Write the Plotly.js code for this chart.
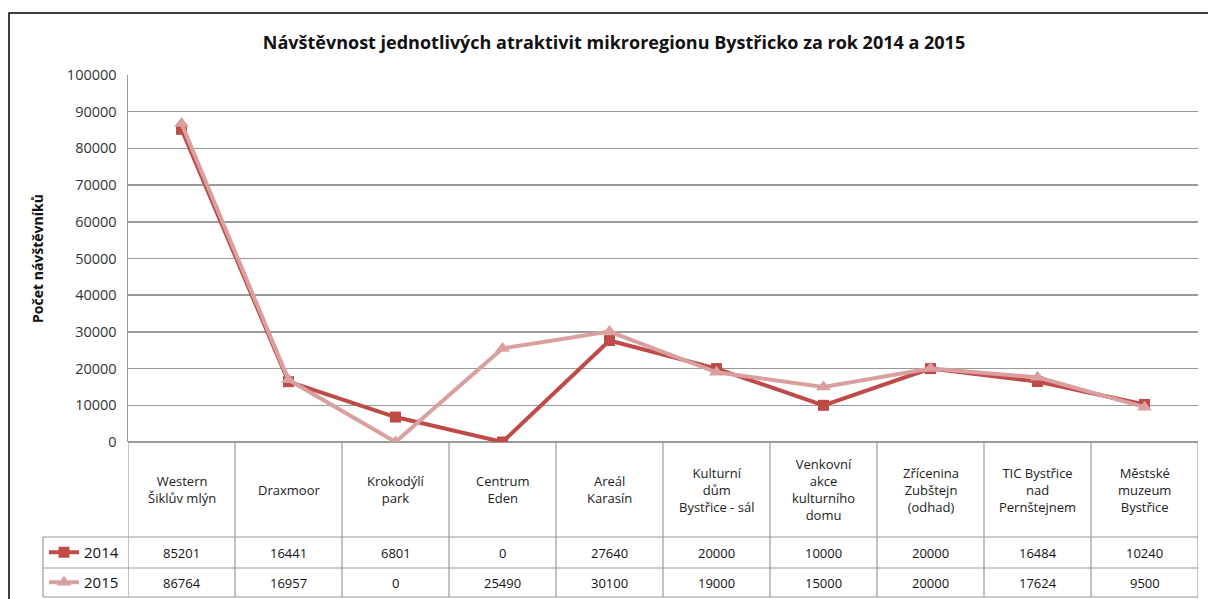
<!DOCTYPE html>
<html>
<head>
<meta charset="utf-8">
<script src="https://cdn.plot.ly/plotly-3.0.1.min.js"></script>
<style>html,body{margin:0;padding:0;background:#fff;}#chart{width:1208px;height:599px;}</style>
</head>
<body>
<div id="chart"></div>
<script>
// ---- data ----
const categories = [
  "Western<br>Šiklův mlýn",
  "Draxmoor",
  "Krokodýlí<br>park",
  "Centrum<br>Eden",
  "Areál<br>Karasín",
  "Kulturní<br>dům<br>Bystřice - sál",
  "Venkovní<br>akce<br>kulturního<br>domu",
  "Zřícenina<br>Zubštejn<br>(odhad)",
  "TIC Bystřice<br>nad<br>Pernštejnem",
  "Městské<br>muzeum<br>Bystřice"
];
const values2014 = [85201, 16441, 6801, 0, 27640, 20000, 10000, 20000, 16484, 10240];
const values2015 = [86764, 16957, 0, 25490, 30100, 19000, 15000, 20000, 17624, 9500];
const seriesNames = ["2014", "2015"];
const yTicks = [0, 10000, 20000, 30000, 40000, 50000, 60000, 70000, 80000, 90000, 100000];
const chartTitle = "Návštěvnost jednotlivých atraktivit mikroregionu Bystřicko za rok 2014 a 2015";
const yTitle = "Počet návštěvníků";

// ---- layout geometry (pixels) ----
const W = 1208, H = 599;
const L = 128, R = 1198, T = 75, B = 442;
const rowTop = 537, rowMid = 568, rowBot = 597, tableLeft = 43;
const px = x => (x - L) / (R - L);
const py = y => (B - y) / (B - T);

const FONT = "Open Sans, Lato, sans-serif";
const c2014 = "#BE4B48", c2015 = "#D9A09F";
const lineCol = "#9A9A9A";

const idx = categories.map((c, i) => i);

const traces = [
  {
    x: idx, y: values2014, name: seriesNames[0], type: "scatter", mode: "lines+markers",
    line: {color: c2014, width: 4},
    marker: {symbol: "square", size: 11, color: c2014},
    legend: "legend"
  },
  {
    x: idx, y: values2015, name: seriesNames[1], type: "scatter", mode: "lines+markers",
    line: {color: c2015, width: 4},
    marker: {symbol: "triangle-up", size: 13, color: c2015},
    legend: "legend2"
  }
];

const shapes = [];
const annotations = [];

// outer chart border (cut off on right and bottom like the reference)
shapes.push({type: "rect", xref: "paper", yref: "paper",
  x0: px(9), x1: px(W + 20), y0: py(H + 20), y1: py(13),
  line: {color: "#000", width: 1.5}, layer: "below"});

// table vertical dividers between categories
for (let i = 0; i <= categories.length; i++) {
  shapes.push({type: "line", xref: "x", yref: "paper",
    x0: i - 0.5, x1: i - 0.5, y0: py(B), y1: py(rowBot),
    line: {color: lineCol, width: 1.2}});
}
// table horizontal lines
[rowTop, rowMid, rowBot].forEach(y => {
  shapes.push({type: "line", xref: "paper", yref: "paper",
    x0: px(tableLeft), x1: px(R), y0: py(y), y1: py(y),
    line: {color: lineCol, width: 1.2}});
});
// left edge of legend column
shapes.push({type: "line", xref: "paper", yref: "paper",
  x0: px(tableLeft), x1: px(tableLeft), y0: py(rowTop), y1: py(rowBot),
  line: {color: lineCol, width: 1.2}});

// header labels
categories.forEach((c, i) => {
  annotations.push({x: i, y: py((B + rowTop) / 2), xref: "x", yref: "paper",
    text: c, showarrow: false, xanchor: "center", yanchor: "middle",
    font: {family: FONT, size: 13, color: "#222"}});
});
// values
const rows = [[values2014, (rowTop + rowMid) / 2], [values2015, (rowMid + rowBot) / 2]];
rows.forEach(([vals, yc]) => {
  vals.forEach((v, i) => {
    annotations.push({x: i, y: py(yc), xref: "x", yref: "paper",
      text: String(v), showarrow: false, xanchor: "center", yanchor: "middle",
      font: {family: FONT, size: 13, color: "#111"}});
  });
});

const legendBase = {
  xref: "paper", yref: "paper", xanchor: "left", yanchor: "middle",
  bgcolor: "rgba(0,0,0,0)", borderwidth: 0,
  font: {family: FONT, size: 15, color: "#111"},
  itemwidth: 30, tracegroupgap: 0
};

const layout = {
  width: W, height: H,
  margin: {l: L, r: W - R, t: T, b: H - B, pad: 0, autoexpand: false},
  paper_bgcolor: "#fff", plot_bgcolor: "#fff",
  showlegend: true,
  title: {text: "<b>" + chartTitle + "</b>", x: 614 / W, xref: "container", xanchor: "center",
    y: 1 - 43 / H, yref: "container", yanchor: "middle",
    font: {family: FONT, size: 18, color: "#111"}},
  xaxis: {
    type: "linear", range: [-0.5, categories.length - 0.5],
    showticklabels: false, showgrid: false, zeroline: false, ticks: "",
    showline: false, fixedrange: true
  },
  yaxis: {
    range: [0, 100000], tickvals: yTicks, ticktext: yTicks.map(String),
    showgrid: true, gridcolor: lineCol, gridwidth: 1.5,
    zeroline: true, zerolinecolor: lineCol, zerolinewidth: 1.5,
    showline: true, linecolor: lineCol, linewidth: 1.5,
    ticks: "", ticklabelstandoff: 7,
    tickfont: {family: FONT, size: 14.5, color: "#333"},
    title: {text: "<b>" + yTitle + "</b>", standoff: 20,
      font: {family: FONT, size: 14, color: "#111"}},
    automargin: false
  },
  legend: Object.assign({}, legendBase, {x: px(44), y: py((rowTop + rowMid) / 2)}),
  legend2: Object.assign({}, legendBase, {x: px(44), y: py((rowMid + rowBot) / 2)}),
  shapes: shapes,
  annotations: annotations
};

Plotly.newPlot("chart", traces, layout, {displayModeBar: false, staticPlot: true});
</script>
</body>
</html>
